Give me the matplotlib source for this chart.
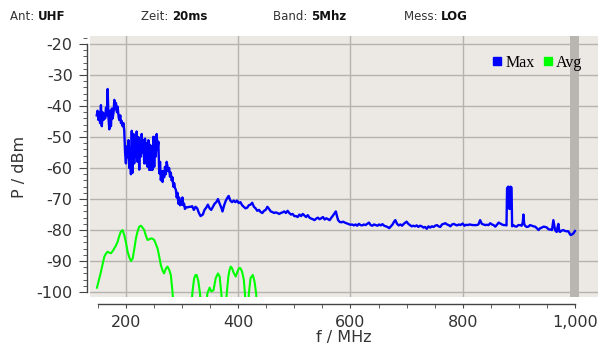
import numpy as np
import matplotlib.pyplot as plt
from matplotlib.ticker import MultipleLocator, FuncFormatter
from matplotlib.lines import Line2D

plt.rcParams["axes.unicode_minus"] = False

# Max trace (MHz, dBm)
max_freq = [
    148, 149.5, 151, 152.5, 154, 155.5, 157, 158.5, 160, 161.5, 163, 164.5, 166, 167.4, 169, 170.4,
    172, 173.3, 175, 176.3, 178, 179.3, 181, 182.2, 184, 185.2, 187, 188.1, 190, 191.1, 192.5, 194.1,
    195.5, 197, 198.5, 200, 201.5, 203, 204.5, 205.9, 207.5, 208.9, 210.4, 211.9, 213.4, 214.8, 216.3,
    217.8, 219.2, 220.7, 222.2, 223.7, 225.2, 226.7, 228.1, 229.6, 231, 232.6, 234, 235.6, 237, 238.5,
    240, 241.5, 243, 244.4, 246, 247.4, 249, 250.4, 252, 253.3, 254.8, 256.3, 257.8, 259.3, 260.8,
    262.2, 263.7, 265.2, 266.6, 268.1, 269.6, 271.1, 272.6, 274.1, 275.5, 277, 278.5, 280, 281.5, 283,
    284.5, 286, 287.5, 289, 290.5, 292, 293.4, 294.8, 296.3, 297.8, 299.2, 300.7, 302.2, 303.7, 305.2,
    306.7, 309.6, 312.6, 315.6, 318, 321, 324, 327, 330, 333, 337, 340, 343, 346, 349, 352, 355, 358,
    361, 364, 367, 370, 372, 375, 378, 381, 383, 386, 389, 392, 395, 398, 401, 404, 407, 410, 413, 416,
    419, 422, 425, 428, 431, 434, 437, 440, 443, 446, 449, 452, 455, 458, 461, 464, 467, 470, 473, 476,
    479, 482, 485, 488, 491, 494, 497, 500, 503, 506, 509, 512, 515, 518, 521, 524, 527, 530, 533, 536,
    539, 542, 545, 548, 551, 554, 557, 560, 563, 566, 569, 572, 574, 576, 578, 581, 584, 587, 590, 593,
    596, 600, 603, 606, 609, 612, 615, 618, 621, 624, 627, 630, 633, 636, 639, 642, 645, 648, 651, 654,
    657, 660, 663, 666, 669, 672, 675, 678, 680, 683, 686, 689, 692, 695, 698, 700, 703, 706, 709, 712,
    715, 718, 721, 724, 727, 730, 733, 736, 739, 742, 745, 748, 751, 754, 757, 760, 763, 766, 769, 772,
    775, 778, 781, 784, 787, 790, 793, 796, 800, 803, 806, 809, 812, 815, 818, 821, 825, 828, 831, 834,
    837, 840, 843, 846, 849, 852, 855, 858, 861, 864, 867, 870, 873, 876, 878, 879, 881, 882, 884, 885,
    887, 888, 890, 893, 896, 899, 902, 905, 907, 908.2, 909.5, 911, 914, 917, 920, 923, 926, 929, 932,
    935, 938, 941, 944, 947, 950, 953, 956, 959, 960.5, 961.5, 963, 964.5, 966, 967.5, 969, 970.4, 972,
    973.4, 976, 979.3, 982, 985.2, 988, 990, 992, 995, 997, 1000,
]
max_dbm = [
    -43, -41.5, -44.5, -42, -45.5, -39.7, -46.5, -42, -44.5, -42.5, -44, -40.5, -43, -34.5, -44, -47.5,
    -41.5, -46.5, -40.8, -44, -42, -38, -41, -39, -42, -40.2, -43.5, -44.5, -43, -45.5, -44.8, -46.5,
    -45.5, -47.8, -55, -58.5, -53, -56.5, -51, -60, -53.5, -62, -48, -61.5, -49, -58.5, -50.5,
    -56.3, -48.2, -58, -50, -60.5, -51.5, -56.3, -49, -55, -51, -58.5, -50.5, -58.5, -52, -59.6,
    -51, -60.6, -52.5, -60.6, -53, -60.6, -49.9, -59.6, -50, -56.3, -49, -54, -51.5, -61.7, -58,
    -63.9, -61, -64.5, -61, -63, -59.6, -62, -58, -59.6, -61, -60, -62.8, -61.5, -64, -63,
    -66, -64.9, -66.5, -67, -69.5, -68, -71.5, -69.5, -72, -70.5, -71.8, -69.5, -72, -71.5, -73.2,
    -72.6, -72.7, -72.5, -72.5, -72.3, -73.5, -72.5, -73, -74.5, -75.5, -75, -73.5, -72.8, -71.8, -73, -73.5, -72.5, -71.5,
    -71, -70, -71.5, -72.8, -74, -72, -70.5, -69.5, -69, -70.5, -71, -70.5, -71, -70.5, -71.3, -71, -72, -72.5, -73, -72.8,
    -72, -71.8, -71.2, -72.5, -73, -73.8, -73.5, -74.2, -74.5, -73.8, -73.5, -72.5, -73.2, -74, -74.2, -74.5, -74.3, -74.5, -74.8, -74.5,
    -74.3, -74, -74.5, -73.8, -74.5, -75, -74.8, -75.5, -75.5, -75.8, -75, -75.5, -74.8, -75.3, -75.8, -75.2, -76, -76.3, -76.5, -76.8,
    -76.3, -76, -76.5, -76.2, -75.8, -76.6, -76.2, -76.5, -76.8, -76, -75.3, -74.5, -74, -75.5, -76.8, -77.4, -77.5, -77.3, -77.6, -77.8,
    -78, -78.3, -78.2, -78.5, -78.2, -78.6, -78, -78.4, -78.5, -78.2, -78.4, -78, -77.6, -78.4, -78.6, -78.2, -78.4, -78.6, -78.2, -78.5,
    -78.1, -78.6, -78.8, -79, -79.4, -78.8, -78.2, -77.2, -76.8, -78, -78.5, -78.2, -78.6, -78, -77.6, -77.3, -78, -78.4, -78.8, -78.6,
    -78.8, -78.5, -79, -78.6, -78.8, -79.2, -79, -79.6, -78.8, -79.2, -78.8, -79, -78.6, -78.4, -78.8, -79, -78.2, -78, -77.8, -78.2,
    -78.4, -78.8, -78.2, -78, -78.3, -78.5, -78.2, -78.4, -77.9, -78.6, -78.3, -78.4, -78.2, -78.3, -78.4, -78.4, -78.4, -78.2, -76.8, -78,
    -78.2, -78.4, -78.3, -78.4, -77.8, -78.2, -78.4, -78.9, -78.3, -77.6, -77.9, -78.2, -78.4, -78.4, -78.5, -66.5, -66, -73, -73.2, -66,
    -66.3, -78.8, -78.4, -78.8, -78.9, -78.4, -78.4, -78.6, -77.5, -75, -78, -78.6, -79, -78.9, -78.4, -78.6, -78.8, -78.9, -79.4,
    -80, -79.4, -79.2, -78.9, -79, -79.2, -79.8, -79.8, -80, -78, -76.8, -78.5, -80, -80.4, -80.6, -79, -78, -80.4,
    -80.6, -80.2, -80, -80.3, -80.4, -80.4, -81, -81.6, -81.4, -81.1, -80.3,
]

# Avg trace (MHz, dBm); values below -100 fall off the bottom of the scale
avg_freq = [
    148.4, 152, 155.6, 158.5, 161.5, 164.5, 167.4, 170.4, 173.3, 176.3, 179.3, 182.2, 185.2, 188, 191,
    194, 197, 200, 203, 206, 209, 212, 215, 217.8, 220.7, 223.7, 226.7, 229.6, 232.6, 235.5, 238.5,
    241.5, 244.4, 247.4, 250.4, 253.3, 256.3, 259.3, 262.2, 265.2, 268, 271, 274, 277, 280, 283, 285,
    316, 318.5, 321.5, 324, 326, 329, 332, 334, 343, 345, 349, 352, 356, 360, 364, 367, 370, 372,
    377, 379.6, 382.5, 384.5, 386.7, 389, 392, 395.6, 398.5, 401.5, 404, 407, 410, 412, 414,
    417, 419, 422, 426, 429, 432, 434, 1000,
]
avg_dbm = [
    -98.6, -96, -93.4, -91, -88.6, -87.6, -87, -87.3, -87.5, -86.8, -85.9, -85, -83.8, -82, -80.5,
    -80, -81.6, -84, -87, -88.8, -90, -89.2, -86, -82.7, -80.5, -78.9, -78.6, -79.2, -80, -81.8, -83.2,
    -83, -82.7, -82.8, -83.2, -84.5, -85.9, -88.5, -91.3, -93, -94, -92.5, -91.8, -92.8, -94.5, -100, -106,
    -106, -100, -95.6, -94.5, -94.5, -96.5, -100.5, -106, -106, -100.5, -98.6, -99.8, -99.4, -95.5, -94, -95, -100.5, -106,
    -106, -100.5, -95, -93, -91.8, -92.3, -93.8, -95, -93.5, -92.3, -92.3, -93.5, -96, -100.5, -106,
    -106, -100.5, -95.5, -94.5, -96.5, -100.5, -106, -106,
]

x_ticks = [200, 400, 600, 800, 1000]
y_ticks = [-20, -30, -40, -50, -60, -70, -80, -90, -100]

header = [("Ant: ", "UHF"), ("Zeit: ", "20ms"), ("Band: ", "5Mhz"), ("Mess: ", "LOG")]
header_x = [10, 141, 273, 404]

W, H = 600, 347
fig = plt.figure(figsize=(W / 100, H / 100), dpi=100)
ax = fig.add_axes([90 / W, 50 / H, 508 / W, 261 / H])
ax.set_facecolor("#ECE9E5")

ax.set_xlim(136, 1041)
ax.set_ylim(-101.6, -17.4)

ax.grid(True, color="#B5B3B0", linewidth=1.0)
ax.set_axisbelow(True)

ax.axvspan(991, 1007, color="#B9B5B1", zorder=1.5, linewidth=0)

ax.plot(avg_freq, avg_dbm, color="#00FF00", linewidth=1.5, zorder=3)
ax.plot(max_freq, max_dbm, color="#0000FF", linewidth=1.7, zorder=4)

ax.set_xticks(x_ticks)
ax.xaxis.set_minor_locator(MultipleLocator(50))
ax.xaxis.set_major_formatter(FuncFormatter(lambda v, p: f"{v:,.0f}"))
ax.set_yticks(y_ticks)
ax.yaxis.set_minor_locator(MultipleLocator(2))

for s in ["top", "right"]:
    ax.spines[s].set_visible(False)
ax.spines["bottom"].set_position(("outward", 5))
ax.spines["left"].set_position(("outward", 2))
ax.spines["bottom"].set_bounds(150, 1000)
ax.spines["left"].set_bounds(-100, -20)
for s in ["bottom", "left"]:
    ax.spines[s].set_color("#444444")
    ax.spines[s].set_linewidth(1.0)

ax.tick_params(axis="x", which="both", length=3, color="#444444", labelsize=11.5,
               labelcolor="#333333", pad=5)
ax.tick_params(axis="y", which="major", length=5.5, color="#444444", labelsize=11.5,
               labelcolor="#333333", pad=5)
ax.tick_params(axis="y", which="minor", length=3, color="#444444")

ax.set_xlabel("f / MHz", fontsize=11.5, color="#333333", labelpad=0)
ax.set_ylabel("P / dBm", fontsize=11.5, color="#333333", labelpad=7)

handles = [
    Line2D([], [], linestyle="none", marker="s", markersize=5.5, color="#0000FF"),
    Line2D([], [], linestyle="none", marker="s", markersize=5.5, color="#00FF00"),
]
ax.legend(handles, ["Max", "Avg"], loc="upper right", ncol=2, frameon=False,
          prop={"family": "Liberation Serif", "size": 11.5}, handlelength=0.6,
          handletextpad=0.2, columnspacing=0.5, borderaxespad=0.3,
          bbox_to_anchor=(0.99, 0.97))

# header line: plain key followed by bold value
renderer = fig.canvas.get_renderer()
for (key, val), xp in zip(header, header_x):
    t = fig.text(xp / W, 1 - 17 / H, key, fontsize=8.5, color="#333333", va="center")
    bb = t.get_window_extent(renderer)
    fig.text(bb.x1 / W, 1 - 17 / H, val, fontsize=8.5, color="#111111",
             fontweight="bold", va="center")

fig.savefig("out.png", dpi=100)
